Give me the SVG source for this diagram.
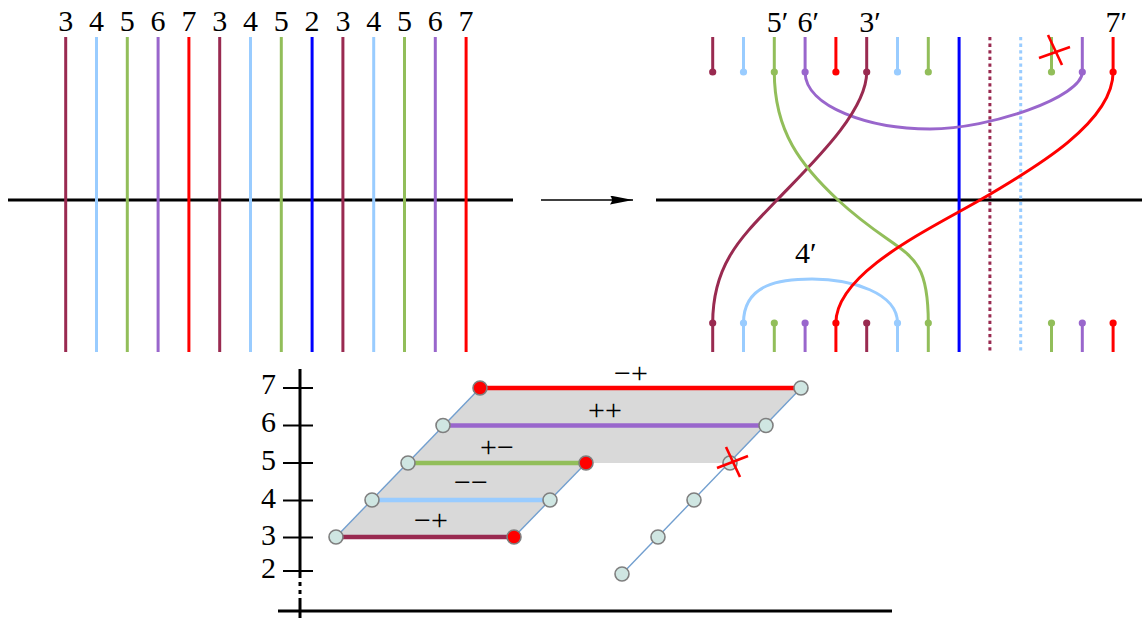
<svg xmlns="http://www.w3.org/2000/svg" width="1142" height="618" viewBox="0 0 1142 618">
<style>
.t{font-family:"Liberation Serif","DejaVu Serif",serif;font-size:30px;fill:#000}
.s{font-family:"Liberation Serif","DejaVu Serif",serif;font-size:30px;fill:#000;text-anchor:middle}
.m{text-anchor:middle}
.e{text-anchor:end}
.st{fill:none;stroke-width:3}
.mar{stroke:#992A50}.lb{stroke:#99CCFF}.gr{stroke:#92BE5A}.pu{stroke:#9966CC}.rd{stroke:#FF0000}.bl{stroke:#0000FF}
.dmar{fill:#992A50}.dlb{fill:#99CCFF}.dgr{fill:#92BE5A}.dpu{fill:#9966CC}.drd{fill:#FF0000}
.dot{stroke:none}
.dash{stroke-dasharray:3.3 3.3;stroke-width:3}
.nd{fill:#CFE6E2;stroke:#7F7F7F;stroke-width:1.6}
.nr{fill:#FF0000;stroke:#7F7F7F;stroke-width:1.6}
.bar{stroke-width:4.5;fill:none}
.thin{stroke:#729FCF;stroke-width:1.4;fill:none}
.ax{stroke:#000;stroke-width:3;fill:none}
.tk{stroke:#000;stroke-width:2;fill:none}
.x{stroke:#FF0000;stroke-width:2.6;fill:none}
</style>
<defs>
<marker id="ah" markerWidth="24" markerHeight="10" refX="23" refY="4.5" orient="auto" markerUnits="userSpaceOnUse">
<path d="M0,0 Q4,4.5 0,9 L23,4.5 Z" fill="#000"/>
</marker>
</defs>

<!-- LEFT PANEL -->
<g id="left-panel">
<line x1="8" y1="200" x2="513" y2="200" class="ax"/>
<g id="left-strands" class="st">
<line x1="65.7" y1="37" x2="65.7" y2="352" class="mar"/>
<line x1="96.5" y1="37" x2="96.5" y2="352" class="lb"/>
<line x1="127.3" y1="37" x2="127.3" y2="352" class="gr"/>
<line x1="158.1" y1="37" x2="158.1" y2="352" class="pu"/>
<line x1="188.9" y1="37" x2="188.9" y2="352" class="rd"/>
<line x1="219.7" y1="37" x2="219.7" y2="352" class="mar"/>
<line x1="250.5" y1="37" x2="250.5" y2="352" class="lb"/>
<line x1="281.3" y1="37" x2="281.3" y2="352" class="gr"/>
<line x1="312.1" y1="37" x2="312.1" y2="352" class="bl"/>
<line x1="342.9" y1="37" x2="342.9" y2="352" class="mar"/>
<line x1="373.7" y1="37" x2="373.7" y2="352" class="lb"/>
<line x1="404.5" y1="37" x2="404.5" y2="352" class="gr"/>
<line x1="435.3" y1="37" x2="435.3" y2="352" class="pu"/>
<line x1="466.1" y1="37" x2="466.1" y2="352" class="rd"/>
</g>
<g id="left-labels" class="t m">
<text x="65.7" y="30.5">3</text><text x="96.5" y="30.5">4</text><text x="127.3" y="30.5">5</text><text x="158.1" y="30.5">6</text><text x="188.9" y="30.5">7</text>
<text x="219.7" y="30.5">3</text><text x="250.5" y="30.5">4</text><text x="281.3" y="30.5">5</text><text x="312.1" y="30.5">2</text>
<text x="342.9" y="30.5">3</text><text x="373.7" y="30.5">4</text><text x="404.5" y="30.5">5</text><text x="435.3" y="30.5">6</text><text x="466.1" y="30.5">7</text>
</g>
</g>

<g id="arrow">
<line x1="541" y1="200" x2="633" y2="200" stroke="#000" stroke-width="1.4" marker-end="url(#ah)"/>
</g>

<!-- RIGHT PANEL -->
<g id="right-panel">
<line x1="656" y1="200" x2="1142" y2="200" class="ax"/>
<g id="right-through" class="st">
<line x1="959.1" y1="37" x2="959.1" y2="352" class="bl"/>
<line x1="989.9" y1="37" x2="989.9" y2="352" class="mar dash"/>
<line x1="1020.7" y1="37" x2="1020.7" y2="352" class="lb dash"/>
</g>
<g id="right-top-stubs" class="st">
<line x1="712.7" y1="37" x2="712.7" y2="72" class="mar"/>
<line x1="743.5" y1="37" x2="743.5" y2="72" class="lb"/>
<line x1="774.3" y1="37" x2="774.3" y2="72" class="gr"/>
<line x1="805.1" y1="37" x2="805.1" y2="72" class="pu"/>
<line x1="835.9" y1="37" x2="835.9" y2="72" class="rd"/>
<line x1="866.7" y1="37" x2="866.7" y2="72" class="mar"/>
<line x1="897.5" y1="37" x2="897.5" y2="72" class="lb"/>
<line x1="928.3" y1="37" x2="928.3" y2="72" class="gr"/>
<line x1="1051.5" y1="37" x2="1051.5" y2="72" class="gr"/>
<line x1="1082.3" y1="37" x2="1082.3" y2="72" class="pu"/>
<line x1="1113.1" y1="37" x2="1113.1" y2="72" class="rd"/>
</g>
<g id="right-bottom-stubs" class="st">
<line x1="712.7" y1="323" x2="712.7" y2="352" class="mar"/>
<line x1="743.5" y1="323" x2="743.5" y2="352" class="lb"/>
<line x1="774.3" y1="323" x2="774.3" y2="352" class="gr"/>
<line x1="805.1" y1="323" x2="805.1" y2="352" class="pu"/>
<line x1="835.9" y1="323" x2="835.9" y2="352" class="rd"/>
<line x1="866.7" y1="323" x2="866.7" y2="352" class="mar"/>
<line x1="897.5" y1="323" x2="897.5" y2="352" class="lb"/>
<line x1="928.3" y1="323" x2="928.3" y2="352" class="gr"/>
<line x1="1051.5" y1="323" x2="1051.5" y2="352" class="gr"/>
<line x1="1082.3" y1="323" x2="1082.3" y2="352" class="pu"/>
<line x1="1113.1" y1="323" x2="1113.1" y2="352" class="rd"/>
</g>
<g id="right-curves" class="st">
<path id="c4p" class="lb" d="M743.5,323 C743.5,283 782,279 812,279 C852,279 897.5,293 897.5,323"/>
<path id="c6p" class="pu" d="M805.1,72 C805.1,107 870,129 930,129 C990,129 1082.3,97 1082.3,72"/>
<path id="c3p" class="mar" d="M866.7,72 C866.7,112 811.5,164 777,200 C742.5,236 712.7,263 712.7,323"/>
<path id="c5p" class="gr" d="M774.3,72 C774.3,132 801.5,166 838,200 C903.7,261 928.3,243 928.3,323"/>
<path id="c7p" class="rd" d="M1113.1,72 C1113.1,122 1036,167.5 980,200 C928,230 835.9,273 835.9,323"/>
</g>
<g id="right-top-dots" class="dot">
<circle cx="712.7" cy="72" r="3.6" class="dmar"/>
<circle cx="743.5" cy="72" r="3.6" class="dlb"/>
<circle cx="774.3" cy="72" r="3.6" class="dgr"/>
<circle cx="805.1" cy="72" r="3.6" class="dpu"/>
<circle cx="835.9" cy="72" r="3.6" class="drd"/>
<circle cx="866.7" cy="72" r="3.6" class="dmar"/>
<circle cx="897.5" cy="72" r="3.6" class="dlb"/>
<circle cx="928.3" cy="72" r="3.6" class="dgr"/>
<circle cx="1051.5" cy="72" r="3.6" class="dgr"/>
<circle cx="1082.3" cy="72" r="3.6" class="dpu"/>
<circle cx="1113.1" cy="72" r="3.6" class="drd"/>
</g>
<g id="right-bottom-dots" class="dot">
<circle cx="712.7" cy="323" r="3.6" class="dmar"/>
<circle cx="743.5" cy="323" r="3.6" class="dlb"/>
<circle cx="774.3" cy="323" r="3.6" class="dgr"/>
<circle cx="805.1" cy="323" r="3.6" class="dpu"/>
<circle cx="835.9" cy="323" r="3.6" class="drd"/>
<circle cx="866.7" cy="323" r="3.6" class="dmar"/>
<circle cx="897.5" cy="323" r="3.6" class="dlb"/>
<circle cx="928.3" cy="323" r="3.6" class="dgr"/>
<circle cx="1051.5" cy="323" r="3.6" class="dgr"/>
<circle cx="1082.3" cy="323" r="3.6" class="dpu"/>
<circle cx="1113.1" cy="323" r="3.6" class="drd"/>
</g>
<g id="right-cross">
<line x1="1039" y1="58" x2="1070" y2="47" class="x"/>
<line x1="1048" y1="35" x2="1062" y2="65" class="x"/>
</g>
<g id="right-labels" class="t">
<text x="766.8" y="31.5">5′</text>
<text x="797.6" y="31.5">6′</text>
<text x="859.2" y="31.5">3′</text>
<text x="1105.6" y="31.5">7′</text>
<text x="795" y="263">4′</text>
</g>
</g>

<!-- BOTTOM CHART -->
<g id="chart">
<polygon id="band" points="336,537 514,537 586,463 730,463 801,388 480,388" fill="#D9D9D9"/>
<g id="axes">
<line x1="300" y1="369" x2="300" y2="578" class="ax"/>
<line x1="300" y1="582" x2="300" y2="586" class="ax"/>
<line x1="300" y1="590" x2="300" y2="594" class="ax"/>
<line x1="300" y1="598" x2="300" y2="618" class="ax"/>
<line x1="278" y1="611" x2="892" y2="611" class="ax"/>
<line x1="283" y1="388" x2="313" y2="388" class="tk"/>
<line x1="283" y1="425.5" x2="313" y2="425.5" class="tk"/>
<line x1="283" y1="463" x2="313" y2="463" class="tk"/>
<line x1="283" y1="500.5" x2="313" y2="500.5" class="tk"/>
<line x1="283" y1="537.5" x2="313" y2="537.5" class="tk"/>
<line x1="283" y1="571" x2="313" y2="571" class="tk"/>
</g>
<g id="axis-labels" class="t e">
<text x="276" y="394">7</text>
<text x="276" y="432">6</text>
<text x="276" y="470">5</text>
<text x="276" y="508">4</text>
<text x="276" y="545">3</text>
<text x="276" y="578">2</text>
</g>
<g id="connectors">
<line x1="336" y1="537" x2="480" y2="388" class="thin"/>
<line x1="514" y1="537" x2="586" y2="463" class="thin"/>
<line x1="622" y1="574" x2="801" y2="388" class="thin"/>
<line x1="480" y1="388" x2="801" y2="388" class="bar rd"/>
<line x1="443" y1="425.5" x2="766" y2="425.5" class="bar pu"/>
<line x1="408" y1="463" x2="586" y2="463" class="bar gr"/>
<line x1="372" y1="500" x2="550" y2="500" class="bar lb"/>
<line x1="336" y1="537" x2="514" y2="537" class="bar mar"/>
</g>
<g id="bar-labels" class="s">
<text x="631" y="383">−+</text>
<text x="605" y="420">++</text>
<text x="497" y="457">+−</text>
<text x="471" y="492">−−</text>
<text x="431" y="530">−+</text>
</g>
<g id="n3L"><circle cx="336" cy="537" r="7" class="nd"/></g>
<g id="n4L"><circle cx="372" cy="500" r="7" class="nd"/></g>
<g id="n5L"><circle cx="408" cy="463" r="7" class="nd"/></g>
<g id="n6L"><circle cx="443" cy="425.5" r="7" class="nd"/></g>
<g id="n7L"><circle cx="480" cy="388" r="7" class="nr"/></g>
<g id="n3R"><circle cx="514" cy="537" r="7" class="nr"/></g>
<g id="n4R"><circle cx="550" cy="500" r="7" class="nd"/></g>
<g id="n5R"><circle cx="586" cy="463" r="7" class="nr"/></g>
<g id="c2"><circle cx="622" cy="574" r="7" class="nd"/></g>
<g id="c3"><circle cx="658" cy="537" r="7" class="nd"/></g>
<g id="c4"><circle cx="694" cy="500" r="7" class="nd"/></g>
<g id="c5"><circle cx="730" cy="463" r="7" class="nd"/></g>
<g id="c6"><circle cx="766" cy="425.5" r="7" class="nd"/></g>
<g id="c7"><circle cx="801" cy="388" r="7" class="nd"/></g>
<g id="chart-cross">
<line x1="717" y1="468" x2="748" y2="456" class="x"/>
<line x1="726" y1="447" x2="740" y2="477" class="x"/>
</g>
</g>
</svg>
